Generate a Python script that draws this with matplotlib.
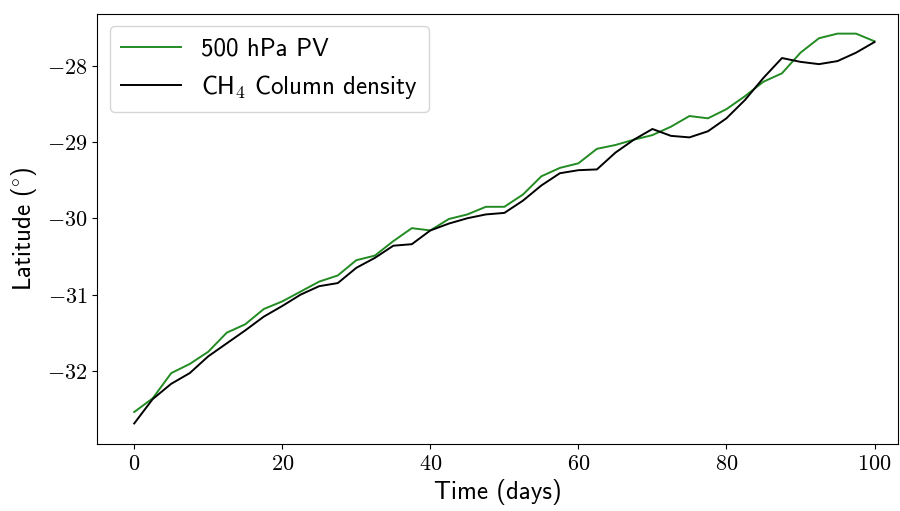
#!/usr/bin/env python3
"""
Latitude drift of 500 hPa PV vs CH4 column density
"""
import matplotlib
matplotlib.use('Agg')  # no display
import matplotlib.pyplot as plt
from matplotlib.ticker import FuncFormatter

plt.rcParams['mathtext.fontset'] = 'cm'
plt.rcParams['axes.formatter.use_mathtext'] = True

# time axis, one sample every 2.5 days
days = [i * 2.5 for i in range(41)]

pv_lat = [-32.54, -32.36, -32.03, -31.91, -31.75, -31.50, -31.39, -31.19, -31.09, -30.96,
          -30.83, -30.75, -30.55, -30.49, -30.30, -30.13, -30.16, -30.01, -29.95, -29.85,
          -29.85, -29.69, -29.45, -29.34, -29.28, -29.09, -29.04, -28.97, -28.91, -28.80,
          -28.66, -28.69, -28.57, -28.40, -28.21, -28.10, -27.83, -27.64, -27.58, -27.58,
          -27.68]

ch4_lat = [-32.69, -32.37, -32.17, -32.03, -31.81, -31.64, -31.47, -31.29, -31.15, -31.00,
           -30.89, -30.85, -30.65, -30.52, -30.36, -30.34, -30.16, -30.07, -30.00, -29.95,
           -29.93, -29.77, -29.57, -29.41, -29.37, -29.36, -29.14, -28.97, -28.83, -28.92,
           -28.94, -28.86, -28.69, -28.45, -28.16, -27.90, -27.95, -27.98, -27.94, -27.83,
           -27.69]

x_ticks = [0, 20, 40, 60, 80, 100]
y_ticks = [-32, -31, -30, -29, -28]

# computer modern sans ships with matplotlib
sans = 'cmss10'

fig = plt.figure(figsize=(9, 5.11), dpi=100)
ax = fig.add_axes([0.108, 0.131, 0.890, 0.842])

ax.plot(days, pv_lat, color='forestgreen', lw=1.4, label='500 hPa PV')
ax.plot(days, ch4_lat, color='black', lw=1.4, label=r'CH$_4$ Column density')

ax.set_xlim(-5, 103.2)
ax.set_ylim(-32.96, -27.32)
ax.set_xticks(x_ticks)
ax.set_yticks(y_ticks)

def mformat(v, pos):
    return r'$%d$' % v

ax.xaxis.set_major_formatter(FuncFormatter(mformat))
ax.yaxis.set_major_formatter(FuncFormatter(mformat))
ax.tick_params(labelsize=16)

ax.set_xlabel('Time (days)', fontsize=18, family=sans, labelpad=4)
ax.set_ylabel(r'Latitude ($\!^\circ\!$)', fontsize=18, family=sans, labelpad=6)

ax.legend(loc='upper left', prop={'family': sans, 'size': 18},
          handlelength=2.4, borderpad=0.45)

fig.savefig('out.png', dpi=100, facecolor='white')
plt.close(fig)
